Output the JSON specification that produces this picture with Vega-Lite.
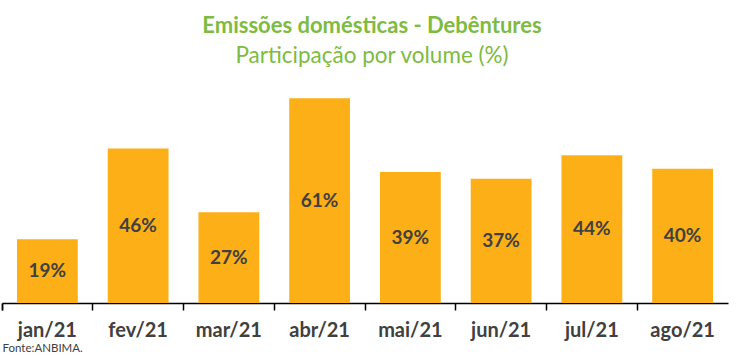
{
  "$schema": "https://vega.github.io/schema/vega-lite/v6.json",
  "width": 726,
  "height": 235,
  "autosize": {"type": "none"},
  "padding": {"left": 2, "top": 68, "right": 22, "bottom": 52},
  "background": "white",
  "config": {"view": {"stroke": null}, "font": "Lato"},
  "title": {
    "text": "Emissões domésticas - Debêntures",
    "subtitle": "Participação por volume (%)",
    "anchor": "middle",
    "dx": 7,
    "font": "Lato",
    "fontSize": 22,
    "fontWeight": "bold",
    "color": "#7DBB42",
    "subtitleFont": "Lato",
    "subtitleFontSize": 22.5,
    "subtitleColor": "#7DBB42",
    "subtitlePadding": 7,
    "offset": 0
  },
  "data": {
    "values": [
      {"mes": "jan/21", "value": 19},
      {"mes": "fev/21", "value": 46},
      {"mes": "mar/21", "value": 27},
      {"mes": "abr/21", "value": 61},
      {"mes": "mai/21", "value": 39},
      {"mes": "jun/21", "value": 37},
      {"mes": "jul/21", "value": 44},
      {"mes": "ago/21", "value": 40}
    ]
  },
  "transform": [{"calculate": "datum.value / 2", "as": "mid"}, {"calculate": "datum.value + '%'", "as": "label"}],
  "encoding": {
    "x": {
      "field": "mes",
      "type": "nominal",
      "sort": null,
      "scale": {"paddingInner": 0, "paddingOuter": 0},
      "axis": {
        "title": "Fonte:ANBIMA.",
        "titleFontSize": 11.5,
        "titleFontWeight": "normal",
        "titleColor": "#404040",
        "titleFont": "Lato",
        "titleAnchor": "start",
        "titleAlign": "left",
        "titlePadding": 2,
        "labelAngle": 0,
        "labelFontSize": 20,
        "labelFontWeight": "bold",
        "labelColor": "#404040",
        "labelPadding": 10,
        "bandPosition": 0,
        "tickExtra": true,
        "tickSize": 7,
        "tickColor": "black",
        "domainColor": "black",
        "domainWidth": 1.5,
        "tickWidth": 1.5
      }
    }
  },
  "layer": [
    {
      "mark": {"type": "bar", "color": "#FCAF17", "width": {"band": 0.67}},
      "encoding": {
        "y": {"field": "value", "type": "quantitative", "scale": {"domain": [0, 70]}, "axis": null}
      }
    },
    {
      "mark": {"type": "text", "fontSize": 19, "fontWeight": "bold", "color": "#404040", "baseline": "middle"},
      "encoding": {
        "y": {"field": "mid", "type": "quantitative", "scale": {"domain": [0, 70]}, "axis": null},
        "text": {"field": "label"}
      }
    }
  ]
}
